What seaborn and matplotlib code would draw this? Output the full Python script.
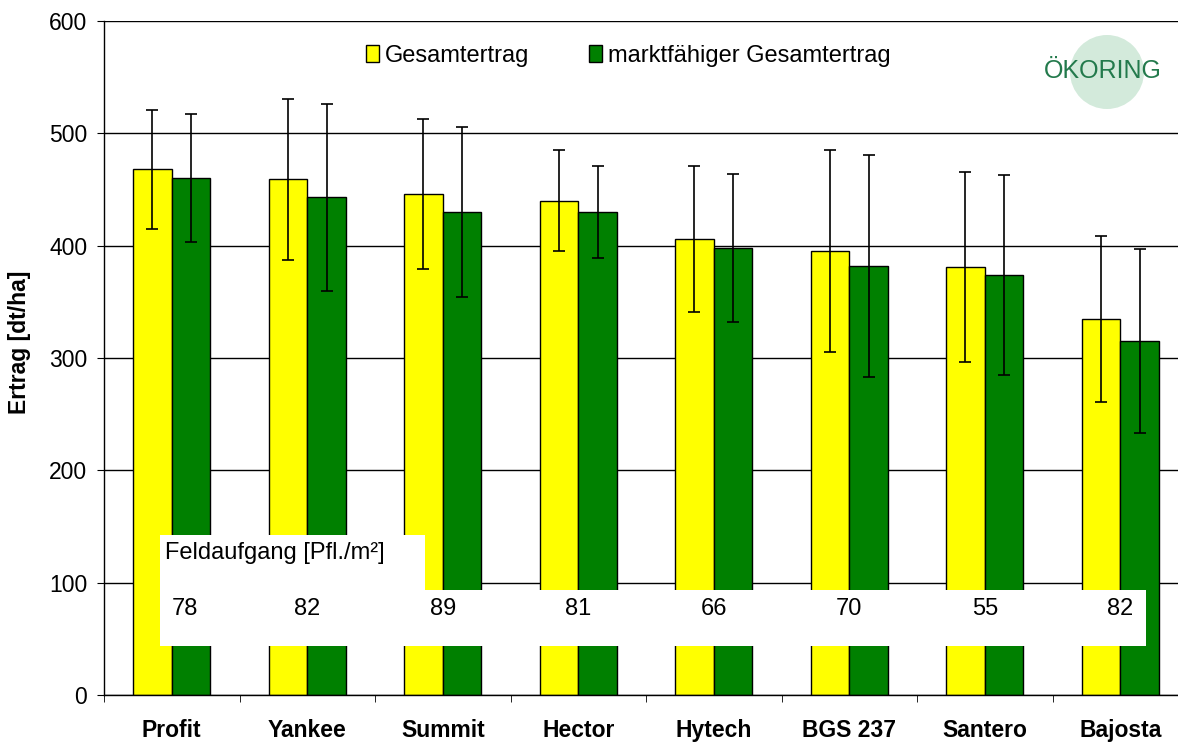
import pandas as pd
import seaborn as sns
import matplotlib.pyplot as plt
from matplotlib.patches import Rectangle, Ellipse
from matplotlib.ticker import FixedLocator

# Ertrag je Sorte (Mittelwert und Streuung)
sorten = ['Profit', 'Yankee', 'Summit', 'Hector', 'Hytech', 'BGS 237', 'Santero', 'Bajosta']
gesamt = [468, 459, 446, 440, 406, 395, 381, 335]
gesamt_sd = [53, 72, 67, 45, 65, 90, 85, 74]
markt = [460, 443, 430, 430, 398, 382, 374, 315]
markt_sd = [57, 83, 76, 41, 66, 99, 89, 82]
feldaufgang = [78, 82, 89, 81, 66, 70, 55, 82]
serien = ['Gesamtertrag', 'marktfähiger Gesamtertrag']
farben = ['#FFFF00', '#008000']

df = pd.DataFrame({
    'Sorte': sorten * 2,
    'Serie': [serien[0]] * len(sorten) + [serien[1]] * len(sorten),
    'Ertrag': gesamt + markt,
})

sns.set_style('white')
plt.rcParams['font.family'] = ['Liberation Sans', 'DejaVu Sans']
plt.rcParams['text.color'] = 'black'
plt.rcParams['axes.labelcolor'] = 'black'
plt.rcParams['xtick.color'] = 'black'
plt.rcParams['ytick.color'] = 'black'

fig = plt.figure(figsize=(11.78, 7.42), dpi=100)
ax = fig.add_axes([104 / 1178, 1 - 695 / 742, 1084 / 1178, 674 / 742])

sns.barplot(data=df, x='Sorte', y='Ertrag', hue='Serie', palette=farben,
            saturation=1, width=0.57, gap=0, errorbar=None, edgecolor='black',
            linewidth=1, ax=ax, zorder=2)

# Fehlerbalken auf die Balkenmitten setzen
for cont, sd in zip(ax.containers, [gesamt_sd, markt_sd]):
    for bar, e in zip(cont, sd):
        xc = bar.get_x() + bar.get_width() / 2
        ax.errorbar(xc, bar.get_height(), yerr=e, fmt='none', ecolor='black',
                    elinewidth=1.2, capsize=4, capthick=1.2, zorder=3)

ax.set_xlim(-0.5, len(sorten) - 0.5)
ax.set_ylim(0, 600)
ax.set_yticks(range(0, 601, 100))
ax.set_axisbelow(True)
ax.yaxis.grid(True, color='black', linewidth=1)
ax.xaxis.grid(False)

for s in ['left', 'bottom']:
    ax.spines[s].set_color('black')
    ax.spines[s].set_linewidth(1)
ax.spines['top'].set_visible(False)
ax.spines['right'].set_visible(False)

ax.tick_params(axis='y', which='major', length=5, direction='out',
               labelsize=16.5, pad=7, left=True)
ax.tick_params(axis='x', which='major', length=0, pad=17, labelsize=16.5)
ax.xaxis.set_minor_locator(FixedLocator([i - 0.5 for i in range(len(sorten) + 1)]))
ax.tick_params(axis='x', which='minor', length=5, direction='out', bottom=True)
for lab in ax.get_xticklabels():
    lab.set_fontweight('bold')

ax.set_xlabel('')
ax.set_ylabel('Ertrag [dt/ha]', fontsize=16.5, fontweight='bold')
ax.yaxis.set_label_coords(31 / 1178, 1 - 342 / 742, transform=fig.transFigure)

# Legende oben
handles, labels = ax.get_legend_handles_labels()
ax.legend(handles, labels, loc='center left', bbox_to_anchor=(0.311, 0.925),
          bbox_transform=fig.transFigure, ncol=2, frameon=False, fontsize=17,
          handlelength=0.55, handleheight=0.7, handletextpad=0.25,
          columnspacing=2.5, borderpad=0, borderaxespad=0)

# Feldaufgang-Kasten
ax.add_patch(Rectangle((-0.087, 44), 7.277, 49.5, facecolor='white',
                       edgecolor='none', zorder=4))
ax.add_patch(Rectangle((-0.087, 93), 1.956, 49.5, facecolor='white',
                       edgecolor='none', zorder=4))
ax.text(-0.05, 126, 'Feldaufgang [Pfl./m²]', ha='left', va='center',
        fontsize=17, zorder=5)
for i, v in enumerate(feldaufgang):
    xpos = i + 0.1 if i == 0 else i
    ax.text(xpos, 77, str(v), ha='center', va='center', fontsize=17, zorder=5)

# Logo
fig.add_artist(Ellipse((1107 / 1178, 1 - 72 / 742), 74 / 1178, 74 / 742,
                       transform=fig.transFigure, facecolor='#d3eadb',
                       edgecolor='none', zorder=1))
fig.text(1103 / 1178, 1 - 71 / 742, 'ÖKORING', ha='center', va='center',
         color='#237a4c', fontsize=18, zorder=2)

fig.savefig('out.png', dpi=100)
